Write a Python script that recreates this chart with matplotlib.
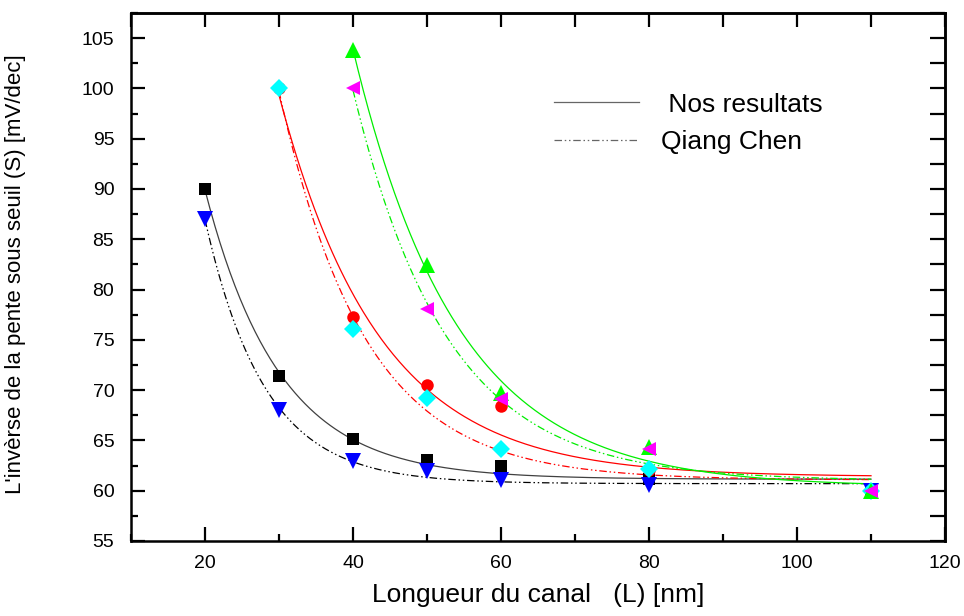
import numpy as np
import matplotlib
matplotlib.use("Agg")
import matplotlib.pyplot as plt
from matplotlib.lines import Line2D
from matplotlib.ticker import MultipleLocator, NullFormatter

plt.rcParams['font.family'] = ['Liberation Sans', 'DejaVu Sans']

# Channel length (nm)
L_a = [20, 30, 40, 50, 60, 80, 110]
L_b = [30, 40, 50, 60, 80, 110]
L_c = [40, 50, 60, 80, 110]

# Subthreshold swing S (mV/dec)
S_nos_1 = [90.0, 71.4, 65.1, 63.1, 62.5, 61.2, 60.1]
S_chen_1 = [87.0, 68.0, 63.0, 62.0, 61.1, 60.6, 60.0]
S_nos_2 = [100.0, 77.3, 70.5, 68.4, 62.1, 60.0]
S_chen_2 = [100.0, 76.1, 69.2, 64.1, 62.2, 60.0]
S_nos_3 = [103.8, 82.4, 69.7, 64.3, 60.0]
S_chen_3 = [100.0, 78.1, 69.1, 64.1, 60.0]

legend_labels = [" Nos resultats", "Qiang Chen"]

DASHDOTDOT = (0, (6, 2.2, 1.2, 2.2, 1.2, 2.2))


def expdec_fit(x, y):
    """First-order exponential decay y = y0 + A*exp(-x/t), least squares."""
    x = np.asarray(x, float)
    y = np.asarray(y, float)
    best = None
    for t in np.linspace(2, 80, 4000):
        M = np.column_stack([np.ones_like(x), np.exp(-x / t)])
        coef, *_ = np.linalg.lstsq(M, y, rcond=None)
        r = np.sum((M @ coef - y) ** 2)
        if best is None or r < best[0]:
            best = (r, t, coef)
    _, t, (y0, A) = best
    xs = np.linspace(x.min(), x.max(), 400)
    return xs, y0 + A * np.exp(-xs / t)


fig = plt.figure(figsize=(9.64, 6.16), dpi=100)
ax = fig.add_axes([0.1359, 0.1218, 0.8444, 0.8571])

series = [
    (L_a, S_nos_1, '0.25', '-', 's', 'black', 8),
    (L_a, S_chen_1, 'black', DASHDOTDOT, 'v', 'blue', 11),
    (L_b, S_nos_2, 'red', '-', 'o', 'red', 9),
    (L_b, S_chen_2, 'red', DASHDOTDOT, 'D', 'cyan', 9),
    (L_c, S_nos_3, '#00ee00', '-', '^', '#00ff00', 11),
    (L_c, S_chen_3, '#00ee00', DASHDOTDOT, '<', '#ff00ff', 10),
]

for x, y, lc, ls, mk, mc, ms in series:
    xs, ys = expdec_fit(x, y)
    ax.plot(xs, ys, color=lc, linestyle=ls, linewidth=0.9, zorder=2)
for x, y, lc, ls, mk, mc, ms in series:
    ax.plot(x, y, linestyle='none', marker=mk, color=mc, markersize=ms,
            markeredgewidth=0, zorder=3)

ax.set_xlim(10, 120)
ax.set_ylim(55, 107.5)
ax.xaxis.set_major_locator(MultipleLocator(20))
ax.xaxis.set_minor_locator(MultipleLocator(10))
ax.yaxis.set_major_locator(MultipleLocator(5))
ax.yaxis.set_minor_locator(MultipleLocator(2.5))

for s in ax.spines.values():
    s.set_linewidth(1.8)

ax.tick_params(which='major', direction='in', length=10, width=1.6,
               top=False, right=False)
ax.tick_params(which='minor', direction='in', length=5, width=1.6,
               top=False, right=False)
ax.tick_params(axis='x', which='major', labelsize=14, pad=10)
ax.tick_params(axis='y', which='major', labelsize=14, pad=12)

# Top and right frames carry equal-length ticks at every step
top = ax.secondary_xaxis('top')
top.xaxis.set_major_locator(MultipleLocator(10))
top.xaxis.set_major_formatter(NullFormatter())
top.tick_params(direction='in', length=10, width=1.6)
right = ax.secondary_yaxis('right')
right.yaxis.set_major_locator(MultipleLocator(2.5))
right.yaxis.set_major_formatter(NullFormatter())
right.tick_params(direction='in', length=11, width=1.6)
for sec in (top, right):
    for s in sec.spines.values():
        s.set_linewidth(1.8)

ax.set_xlabel("Longueur du canal   (L) [nm]", fontsize=19)
ax.xaxis.set_label_coords(0.5, -0.08)
ax.set_ylabel("L'invèrse de la pente sous seuil (S) [mV/dec]", fontsize=16)
ax.yaxis.set_label_coords(-0.129, 0.505)

handles = [Line2D([], [], color='0.4', linestyle='-', linewidth=0.9),
           Line2D([], [], color='0.4', linestyle=DASHDOTDOT, linewidth=0.9)]
ax.legend(handles, legend_labels, frameon=False, fontsize=19,
          handlelength=3.2, handletextpad=0.85, labelspacing=0.5,
          borderpad=0, borderaxespad=0,
          loc='upper left', bbox_to_anchor=(0.52, 0.849))

fig.savefig("out.png", dpi=100)
